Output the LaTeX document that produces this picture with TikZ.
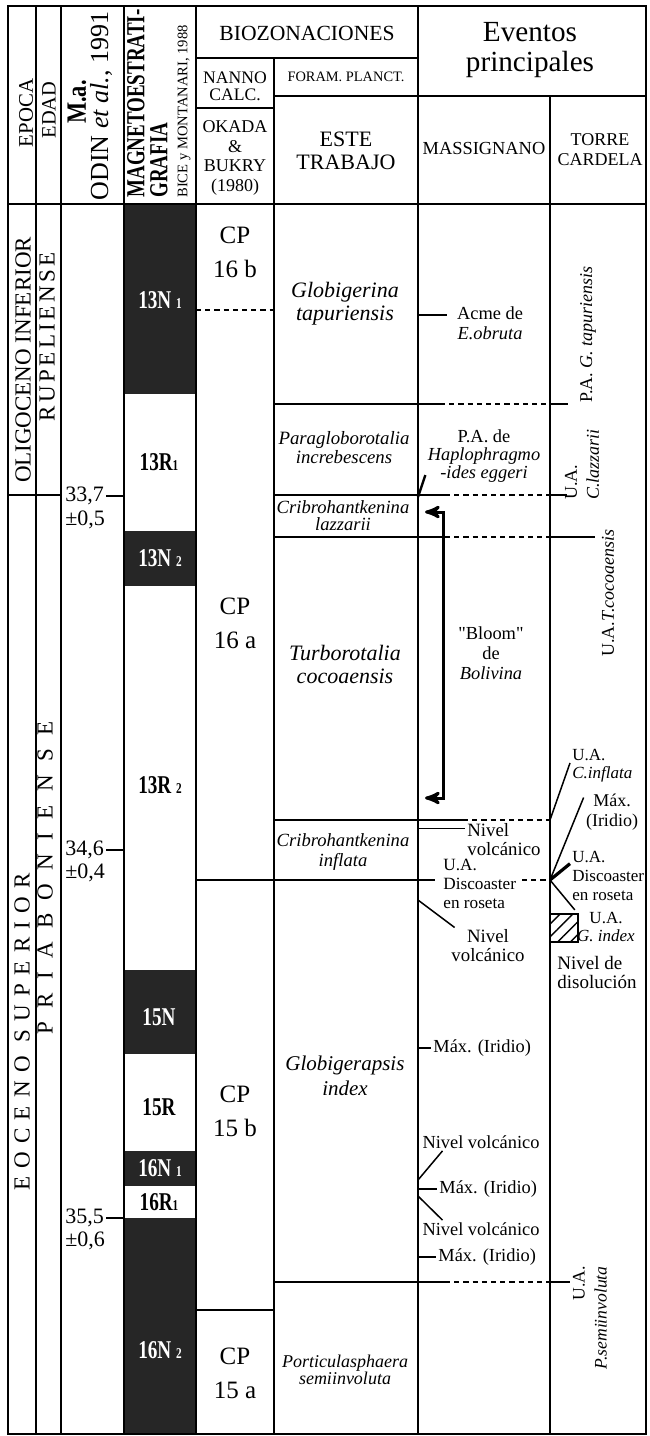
\documentclass[tikz,border=0pt]{standalone}
\usepackage{fontspec}
\setmainfont{Liberation Serif}
\usetikzlibrary{arrows,patterns.meta}
\newcommand\fsz[2]{\fontsize{#1}{#2}\selectfont}
\newcommand\chsub[1]{{\fsz{7.5}{8}#1}}
\newcommand\qt{{\addfontfeatures{Ligatures=TeXOff}"}}

\begin{document}
\begin{tikzpicture}
  [x=0.5pt,y=-0.5pt,>=stealth',
  grid/.style={line width=1pt},
  lead/.style={line width=0.75pt},
  dsh/.style={line width=0.9pt,dash pattern=on 2.6pt off 2pt},
  hd/.style={align=center,inner sep=0pt},
  vtxt/.style={rotate=90,inner sep=0pt},
  cp/.style={align=center,inner sep=0pt,font=\fsz{12.5}{17}},
  zone/.style={align=center,inner sep=0pt},
  ev/.style={align=center,inner sep=1pt,font=\fsz{9.2}{10}},
  chron/.style={fill=black!85},
  chlab/.style={text=white,inner sep=0pt,font=\fsz{12.8}{13}\bfseries\addfontfeatures{FakeStretch=0.75}},
  bloomarr/.style={line width=1.5pt,<->}]
  \fill[white] (0,0) rectangle (649,1436);
  \useasboundingbox (0,0) rectangle (649,1436);

  \coordinate (cMag) at (124,0);
  \coordinate (cMas) at (418,0);
  \coordinate (cTor) at (550,0);

  % polarity column
  \fill[chron] (124,204) rectangle (196,394);
  \fill[chron] (124,531) rectangle (196,586);
  \fill[chron] (124,970) rectangle (196,1054);
  \fill[chron] (124,1151) rectangle (196,1186);
  \fill[chron] (124,1218) rectangle (196,1434);

  % table frame
  \draw[grid] (8,6) rectangle (646,1434);
  \draw[grid] (36,6) -- (36,1434) (61,6) -- (61,1434) (124,6) -- (124,1434) (196,6) -- (196,1434);
  \draw[grid] (274,58) -- (274,1434) (418,6) -- (418,1434) (550,96) -- (550,1434);
  \draw[grid] (196,58) -- (418,58) (274,96) -- (646,96) (196,108) -- (274,108);
  \draw[grid] (8,204) -- (646,204) (8,495) -- (61,495);

  % zone limits
  \draw[dsh] (196,310) -- (274,310);
  \draw[grid] (274,404) -- (440,404) (550,404) -- (568,404);
  \draw[dsh] (440,404) -- (550,404);
  \draw[grid] (274,495) -- (445,495) (550,495) -- (567,495);
  \draw[dsh] (445,495) -- (550,495);
  \draw[grid] (274,537) -- (445,537) (550,537) -- (595,537);
  \draw[dsh] (445,537) -- (550,537);
  \draw[grid] (274,820) -- (463,820);
  \draw[dsh] (463,820) -- (550,820);
  \draw[grid] (196,880) -- (435,880);
  \draw[dsh] (522,880) -- (550,880);
  \draw[grid] (274,1282) -- (445,1282) (550,1282) -- (570,1282);
  \draw[dsh] (445,1282) -- (550,1282);
  \draw[grid] (196,1310) -- (274,1310);

  % headings
  \node[vtxt,font=\fsz{10.4}{11}] (epoca) at (26,113) {EPOCA};
  \node[vtxt,font=\fsz{10.2}{11}] (edad) at (49,110) {EDAD};
  \node[vtxt,font=\fsz{14}{14}\bfseries\addfontfeatures{FakeStretch=0.8}] (mahd) at (77,102) {M.a.};
  \node[vtxt,font=\fsz{13}{14}] (odin) at (101,106) {ODIN \textit{et al.}, 1991};
  \node[vtxt,anchor=west,font=\fsz{13}{14}\bfseries\addfontfeatures{FakeStretch=0.73}] (magA) at (136,198) {MAGNETOESTRATI-};
  \node[vtxt,anchor=west,font=\fsz{13}{14}\bfseries\addfontfeatures{FakeStretch=0.73}] (magB) at (159,198) {GRAFIA};
  \node[vtxt,anchor=west,font=\fsz{7.3}{8}] (magC) at (184,198) {BICE y MONTANARI, 1988};
  \node[hd,font=\fsz{10.8}{12}] (bioz) at (307,33) {BIOZONACIONES};
  \node[hd,font=\fsz{14.6}{15}] (evt) at (530,50) {Eventos\\principales};
  \node[hd,font=\fsz{8.8}{8.5}] (nanno) at (235,86) {NANNO\\CALC.};
  \node[hd,font=\fsz{7.2}{8}] (foram) at (346,77) {FORAM. PLANCT.};
  \node[hd,font=\fsz{9}{9.7}] (okada) at (235,158) {OKADA\\\&\\BUKRY\\(1980)};
  \node[hd,font=\fsz{11}{11.7}] (este) at (346,151) {ESTE\\TRABAJO};
  \node[hd,font=\fsz{9.2}{10}] (mass) at (484,148) {MASSIGNANO};
  \node[hd,font=\fsz{9}{10}] (torre) at (600,150) {TORRE\\CARDELA};

  % epochs and stages
  \node[vtxt,font=\fsz{11.5}{12}] (olig) at (23,360) {OLIGOCENO INFERIOR};
  \node[vtxt,font={\fsz{11.5}{12}\addfontfeatures{LetterSpace=36}}] (eoc) at (22,1032) {EOCENO SUPERIOR};
  \node[vtxt,font={\fsz{11.5}{12}\addfontfeatures{LetterSpace=15}}] (rup) at (47,337) {RUPELIENSE};
  \node[vtxt,font={\fsz{11.5}{12}\addfontfeatures{LetterSpace=58}}] (pria) at (45,878) {PRIABONIENSE};

  % ages
  \node[anchor=west,inner sep=0pt,font=\fsz{11}{12}] (a337) at (65,496) {33,7};
  \node[anchor=west,inner sep=0pt,font=\fsz{11}{12}] (b337) at (65,520) {±0,5};
  \draw[grid] ([xshift=1pt]a337.east) -- (a337.east -| cMag);
  \node[anchor=west,inner sep=0pt,font=\fsz{11}{12}] (a346) at (65,850) {34,6};
  \node[anchor=west,inner sep=0pt,font=\fsz{11}{12}] (b346) at (65,873) {±0,4};
  \draw[grid] ([xshift=1pt]a346.east) -- (a346.east -| cMag);
  \node[anchor=west,inner sep=0pt,font=\fsz{11}{12}] (a355) at (65,1218) {35,5};
  \node[anchor=west,inner sep=0pt,font=\fsz{11}{12}] (b355) at (65,1241) {±0,6};
  \draw[grid] ([xshift=1pt]a355.east) -- (a355.east -| cMag);

  % chrons
  \node[chlab] (n13a) at (160,300) {13N \chsub{1}};
  \node[chlab,text=black] (r13a) at (159,462) {13R\chsub{1}};
  \node[chlab] (n13b) at (160,558) {13N \chsub{2}};
  \node[chlab,text=black] (r13b) at (160,785) {13R \chsub{2}};
  \node[chlab] (n15) at (159,1017) {15N};
  \node[chlab,text=black] (r15) at (159,1107) {15R};
  \node[chlab] (n16a) at (160,1168) {16N \chsub{1}};
  \node[chlab,text=black] (r16a) at (159,1202) {16R\chsub{1}};
  \node[chlab] (n16b) at (160,1350) {16N \chsub{2}};

  % nannofossil zones
  \node[cp] (cp16b) at (235,252) {CP\\16 b};
  \node[cp] (cp16a) at (235,623) {CP\\16 a};
  \node[cp] (cp15b) at (235,1111) {CP\\15 b};
  \node[cp] (cp15a) at (235,1373) {CP\\15 a};

  % foraminifera zones
  \node[zone,font=\fsz{11}{11.5}\itshape] (zglob) at (345,304) {Globigerina\\tapuriensis};
  \node[zone,font=\fsz{9.4}{9.5}\itshape] (zpar) at (344,448) {Paragloborotalia\\increbescens};
  \node[zone,font=\fsz{9.3}{8.5}\itshape] (zclaz) at (343,516) {Cribrohantkenina\\lazzarii};
  \node[zone,font=\fsz{11}{11.5}\itshape] (zturb) at (345,664) {Turborotalia\\cocoaensis};
  \node[zone,font=\fsz{9.3}{10}\itshape] (zcinf) at (343,852) {Cribrohantkenina\\inflata};
  \node[zone,font=\fsz{10.5}{12.5}\itshape] (zgi) at (345,1076) {Globigerapsis\\index};
  \node[zone,font=\fsz{9}{8.5}\itshape] (zport) at (345,1370) {Porticulasphaera\\semiinvoluta};

  % Massignano
  \node[ev] (acme) at (490,323) {Acme de\\\textit{E.obruta}};
  \draw[grid,shorten >=4pt] (acme.167 -| cMas) -- (acme.167);
  \node[ev,font=\fsz{9.2}{9}] (hapl) at (484,456) {P.A. de\\\textit{Haplophragmo}\\\textit{-ides eggeri}};
  \coordinate (hap0) at (418,497);
  \draw[line width=1.2pt] (hap0) -- (hapl.198);
  \coordinate (blA) at (425,512);
  \coordinate (blB) at (425,798);
  \draw[bloomarr] (blA) -- ++(18,0) |- (blB);
  \node[ev] (bloom) at (491,653) {\qt Bloom\qt\\de\\\textit{Bolivina}};
  \node[ev,align=left,anchor=north west,font=\fsz{9.4}{9.5}] (nv1) at (465,821) {Nivel\\volcánico};
  \draw[lead] (nv1.164 -| cMas) -- (nv1.164);
  \node[ev,align=left,anchor=north west,font=\fsz{8.6}{9.5}] (udl) at (441,857) {U.A.\\Discoaster\\en roseta};
  \node[ev,font=\fsz{9.4}{9.5}] (nv2) at (488,946) {Nivel\\volcánico};
  \coordinate (nvA) at (418,900);
  \draw[lead] (nvA) -- (nv2.151);
  \node[ev,anchor=west] (mx1) at (431,1048) {Máx. (Iridio)};
  \draw[grid] (mx1.west -| cMas) -- (mx1.west);
  \node[ev] (nv3) at (481,1142) {Nivel volcánico};
  \coordinate (nvB) at (418,1180);
  \draw[lead] (nvB) -- (nv3.193);
  \node[ev,anchor=west] (mx2) at (437,1189) {Máx. (Iridio)};
  \draw[grid] (mx2.west -| cMas) -- (mx2.west);
  \node[ev] (nv4) at (481,1229) {Nivel volcánico};
  \coordinate (nvC) at (418,1196);
  \draw[lead] (nvC) -- (nv4.167);
  \node[ev,anchor=west] (mx3) at (436,1257) {Máx. (Iridio)};
  \draw[line width=1.3pt] (mx3.west -| cMas) -- (mx3.west);

  % Torre Cardela
  \node[vtxt,anchor=west,font=\fsz{9}{10}] (pag) at (588,403) {P.A. \textit{G. tapuriensis}};
  \node[vtxt,anchor=west,align=left,font=\fsz{9}{11}] (uacl) at (582,500) {U.A.\\\textit{C.lazzarii}};
  \node[vtxt,anchor=east,font=\fsz{9}{10}] (uatc) at (608,529) {U.A.\textit{T.cocoaensis}};
  \node[ev,align=left,anchor=north west,font=\fsz{8.5}{9}] (uaci) at (570,747) {U.A.\\\textit{C.inflata}};
  \coordinate (tA) at (550,820);
  \draw[lead] (tA) -- (uaci.175);
  \coordinate (tB) at (550,880);
  \node[ev,font=\fsz{9}{10}] (mxr) at (612,812) {Máx.\\(Iridio)};
  \draw[lead] (tB) -- (mxr.153);
  \node[ev,align=left,anchor=north west,font=\fsz{8.5}{9.5}] (udr) at (570,849) {U.A.\\Discoaster\\en roseta};
  \draw[line width=1.6pt] (tB) -- (udr.162);
  \node[ev,font=\fsz{8.5}{9}] (uagi) at (606,927) {U.A.\\\textit{G. index}};
  \draw[lead] (tB) -- (uagi.north west);
  \draw[lead,pattern={Lines[angle=45,distance=4.5pt,line width=0.7pt]}] (550,914) rectangle (578,942);
  \node[ev,align=left,anchor=north west,font=\fsz{9.5}{9.5}] (disol) at (555,954) {Nivel de\\disolución};
  \node[vtxt,anchor=east,align=right,font=\fsz{8.8}{11}] (uaps) at (590,1266) {U.A.\\\textit{P.semiinvoluta}};
\end{tikzpicture}
\end{document}
